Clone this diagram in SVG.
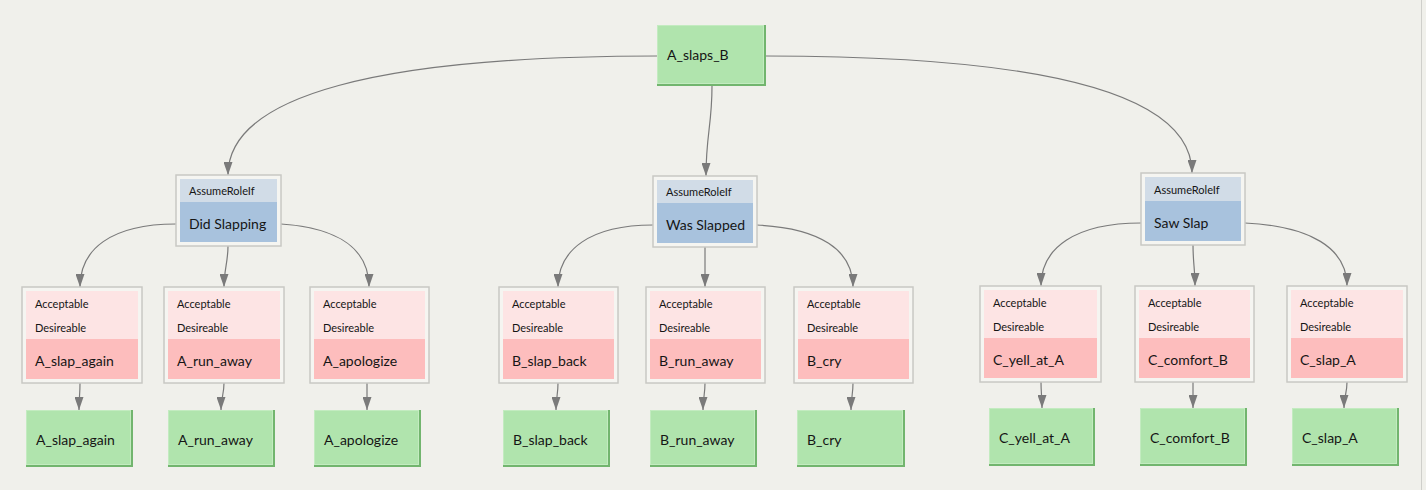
<svg xmlns="http://www.w3.org/2000/svg" width="1426" height="490" viewBox="0 0 1426 490">
<style>
text{font-family:Lato,"Open Sans","Liberation Sans",sans-serif;fill:#151515}
.nm{font-size:14px}
.sm{font-size:11px}
.gs{fill:#72b56e}
.gf{fill:#b0e4ad;stroke:#c3ebc0;stroke-width:1}
.ob{fill:#f5f5f1;stroke:#c8c8c4;stroke-width:1.5}
.ph{fill:#fde4e4}
.pb{fill:#fdbdbd}
.bh{fill:#d1dce7}
.bb{fill:#a8c2dd}
.c{fill:none;stroke:#7a7a7a;stroke-width:1.2;marker-end:url(#ah)}
</style>
<defs>
<marker id="ah" markerUnits="userSpaceOnUse" markerWidth="13" markerHeight="9" viewBox="0 0 13 9" refX="13" refY="4.5" orient="auto">
<path d="M0,0 L13,4.5 L0,9 Z" fill="#7a7a7a"/>
</marker>
</defs>
<rect width="1426" height="490" fill="#f0f0eb"/>
<line x1="1421.5" y1="0" x2="1421.5" y2="490" stroke="#cfcfcb" stroke-width="1"/>

<g id="connectors">
<path class="c" d="M657,56 C380,56 228,95 228,175"/>
<path class="c" d="M712,86 C712,125 706,135 706,176"/>
<path class="c" d="M766,56 C1050,56 1192,95 1192,173"/>
<path class="c" d="M176,224 C110,224 80,250 80,287"/>
<path class="c" d="M228,246 C228,262 224,270 224,287"/>
<path class="c" d="M281,224 C340,228 369,250 369,287"/>
<path class="c" d="M653,225 C590,225 558,250 558,287"/>
<path class="c" d="M705,247 C705,262 705,270 705,287"/>
<path class="c" d="M757,225 C820,228 853,250 853,287"/>
<path class="c" d="M1141,223 C1075,223 1041,248 1041,286"/>
<path class="c" d="M1193,245 C1193,262 1195,270 1195,286"/>
<path class="c" d="M1245,223 C1310,226 1347,248 1347,286"/>
<path class="c" d="M80,383 C80,395 79,398 79,410"/>
<path class="c" d="M224,383 C224,395 221,398 221,410"/>
<path class="c" d="M367,383 C367,395 367,398 367,410"/>
<path class="c" d="M558,383 C558,395 556,398 556,410"/>
<path class="c" d="M705,383 C705,395 703,398 703,410"/>
<path class="c" d="M853,383 C853,395 851,398 851,410"/>
<path class="c" d="M1041,382 C1041,394 1042,396 1042,408"/>
<path class="c" d="M1193,382 C1193,394 1193,396 1193,408"/>
<path class="c" d="M1347,382 C1347,394 1344,396 1344,408"/>
</g>

<g id="A_slaps_B" transform="translate(657,25)">
<rect class="gs" width="109" height="61"/><rect class="gf" x="0.5" y="0.5" width="106" height="58"/>
<text class="nm" x="10" y="35">A_slaps_B</text>
</g>

<g id="role_did_slapping" transform="translate(176,175)">
<rect class="ob" width="105" height="71"/><rect class="bh" x="4" y="4" width="97" height="23"/><rect class="bb" x="4" y="27" width="97" height="40"/>
<text class="sm" x="13" y="20">AssumeRoleIf</text><text class="nm" x="13" y="54">Did Slapping</text>
</g>
<g id="role_was_slapped" transform="translate(653,176)">
<rect class="ob" width="104" height="71"/><rect class="bh" x="4" y="4" width="96" height="23"/><rect class="bb" x="4" y="27" width="96" height="40"/>
<text class="sm" x="13" y="20">AssumeRoleIf</text><text class="nm" x="13" y="54">Was Slapped</text>
</g>
<g id="role_saw_slap" transform="translate(1141,173)">
<rect class="ob" width="104" height="72"/><rect class="bh" x="4" y="4" width="96" height="24"/><rect class="bb" x="4" y="28" width="96" height="40"/>
<text class="sm" x="13" y="21">AssumeRoleIf</text><text class="nm" x="13" y="55">Saw Slap</text>
</g>

<g id="opt_A_slap_again" transform="translate(22,287)">
<rect class="ob" width="120" height="96"/><rect class="ph" x="4" y="4" width="112" height="48"/><rect class="pb" x="4" y="52" width="112" height="40"/>
<text class="sm" x="13" y="21">Acceptable</text><text class="sm" x="13" y="45">Desireable</text><text class="nm" x="13" y="79">A_slap_again</text>
</g>
<g id="opt_A_run_away" transform="translate(164,287)">
<rect class="ob" width="120" height="96"/><rect class="ph" x="4" y="4" width="112" height="48"/><rect class="pb" x="4" y="52" width="112" height="40"/>
<text class="sm" x="13" y="21">Acceptable</text><text class="sm" x="13" y="45">Desireable</text><text class="nm" x="13" y="79">A_run_away</text>
</g>
<g id="opt_A_apologize" transform="translate(310,287)">
<rect class="ob" width="119" height="96"/><rect class="ph" x="4" y="4" width="111" height="48"/><rect class="pb" x="4" y="52" width="111" height="40"/>
<text class="sm" x="13" y="21">Acceptable</text><text class="sm" x="13" y="45">Desireable</text><text class="nm" x="13" y="79">A_apologize</text>
</g>
<g id="opt_B_slap_back" transform="translate(499,287)">
<rect class="ob" width="119" height="96"/><rect class="ph" x="4" y="4" width="111" height="48"/><rect class="pb" x="4" y="52" width="111" height="40"/>
<text class="sm" x="13" y="21">Acceptable</text><text class="sm" x="13" y="45">Desireable</text><text class="nm" x="13" y="79">B_slap_back</text>
</g>
<g id="opt_B_run_away" transform="translate(646,287)">
<rect class="ob" width="119" height="96"/><rect class="ph" x="4" y="4" width="111" height="48"/><rect class="pb" x="4" y="52" width="111" height="40"/>
<text class="sm" x="13" y="21">Acceptable</text><text class="sm" x="13" y="45">Desireable</text><text class="nm" x="13" y="79">B_run_away</text>
</g>
<g id="opt_B_cry" transform="translate(794,287)">
<rect class="ob" width="119" height="96"/><rect class="ph" x="4" y="4" width="111" height="48"/><rect class="pb" x="4" y="52" width="111" height="40"/>
<text class="sm" x="13" y="21">Acceptable</text><text class="sm" x="13" y="45">Desireable</text><text class="nm" x="13" y="79">B_cry</text>
</g>
<g id="opt_C_yell_at_A" transform="translate(980,286)">
<rect class="ob" width="121" height="96"/><rect class="ph" x="4" y="4" width="113" height="48"/><rect class="pb" x="4" y="52" width="113" height="40"/>
<text class="sm" x="13" y="21">Acceptable</text><text class="sm" x="13" y="45">Desireable</text><text class="nm" x="13" y="79">C_yell_at_A</text>
</g>
<g id="opt_C_comfort_B" transform="translate(1135,286)">
<rect class="ob" width="119" height="96"/><rect class="ph" x="4" y="4" width="111" height="48"/><rect class="pb" x="4" y="52" width="111" height="40"/>
<text class="sm" x="13" y="21">Acceptable</text><text class="sm" x="13" y="45">Desireable</text><text class="nm" x="13" y="79">C_comfort_B</text>
</g>
<g id="opt_C_slap_A" transform="translate(1287,286)">
<rect class="ob" width="120" height="96"/><rect class="ph" x="4" y="4" width="112" height="48"/><rect class="pb" x="4" y="52" width="112" height="40"/>
<text class="sm" x="13" y="21">Acceptable</text><text class="sm" x="13" y="45">Desireable</text><text class="nm" x="13" y="79">C_slap_A</text>
</g>

<g id="act_A_slap_again" transform="translate(26,410)">
<rect class="gs" width="107" height="57"/><rect class="gf" x="0.5" y="0.5" width="104" height="54"/><text class="nm" x="10" y="35">A_slap_again</text>
</g>
<g id="act_A_run_away" transform="translate(168,410)">
<rect class="gs" width="107" height="57"/><rect class="gf" x="0.5" y="0.5" width="104" height="54"/><text class="nm" x="10" y="35">A_run_away</text>
</g>
<g id="act_A_apologize" transform="translate(314,410)">
<rect class="gs" width="107" height="57"/><rect class="gf" x="0.5" y="0.5" width="104" height="54"/><text class="nm" x="10" y="35">A_apologize</text>
</g>
<g id="act_B_slap_back" transform="translate(503,410)">
<rect class="gs" width="107" height="57"/><rect class="gf" x="0.5" y="0.5" width="104" height="54"/><text class="nm" x="10" y="35">B_slap_back</text>
</g>
<g id="act_B_run_away" transform="translate(650,410)">
<rect class="gs" width="107" height="57"/><rect class="gf" x="0.5" y="0.5" width="104" height="54"/><text class="nm" x="10" y="35">B_run_away</text>
</g>
<g id="act_B_cry" transform="translate(797,410)">
<rect class="gs" width="108" height="57"/><rect class="gf" x="0.5" y="0.5" width="105" height="54"/><text class="nm" x="10" y="35">B_cry</text>
</g>
<g id="act_C_yell_at_A" transform="translate(989,408)">
<rect class="gs" width="106" height="58"/><rect class="gf" x="0.5" y="0.5" width="103" height="55"/><text class="nm" x="10" y="35">C_yell_at_A</text>
</g>
<g id="act_C_comfort_B" transform="translate(1140,408)">
<rect class="gs" width="107" height="58"/><rect class="gf" x="0.5" y="0.5" width="104" height="55"/><text class="nm" x="10" y="35">C_comfort_B</text>
</g>
<g id="act_C_slap_A" transform="translate(1292,408)">
<rect class="gs" width="107" height="58"/><rect class="gf" x="0.5" y="0.5" width="104" height="55"/><text class="nm" x="10" y="35">C_slap_A</text>
</g>
</svg>
